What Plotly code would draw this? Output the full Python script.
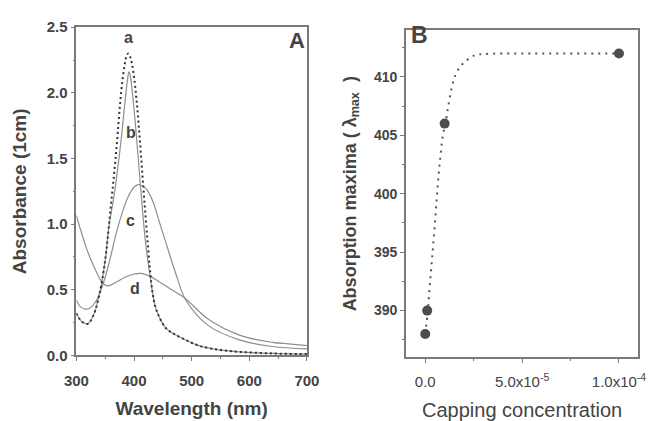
import plotly.graph_objects as go

# ---------------- Panel A data (wavelength nm, absorbance) ----------------
a_wl = [300, 306, 312, 319, 324, 329, 334, 339, 343, 348, 352, 356, 360, 364, 368, 372, 376, 380, 384, 387,
        390, 393, 396, 400, 404, 408, 412, 416, 420, 424, 428, 432, 437, 443, 450, 457, 465, 473, 490, 512,
        545, 584, 640, 700]
a_abs = [0.32, 0.275, 0.25, 0.24, 0.26, 0.30, 0.36, 0.45, 0.53, 0.665, 0.80, 0.97, 1.15, 1.32, 1.50, 1.71, 1.93, 2.10, 2.22, 2.28,
         2.30, 2.28, 2.23, 2.12, 1.96, 1.76, 1.53, 1.29, 1.06, 0.84, 0.64, 0.48, 0.37, 0.30, 0.24, 0.20, 0.175, 0.155, 0.117, 0.075,
         0.044, 0.027, 0.015, 0.01]

b_wl = [300, 306, 312, 319, 324, 329, 334, 339, 343, 348, 352, 356, 360, 364, 368, 373, 378, 382, 386, 389,
        391, 393, 396, 401, 405, 408, 412, 416, 420, 424, 428, 432, 437, 443, 450, 457, 465, 473, 490, 512,
        545, 584, 640, 700]
b_abs = [0.32, 0.275, 0.25, 0.24, 0.26, 0.30, 0.36, 0.45, 0.53, 0.665, 0.80, 0.97, 1.08, 1.18, 1.30, 1.47, 1.66, 1.83, 2.00, 2.11,
         2.16, 2.14, 2.05, 1.83, 1.63, 1.46, 1.25, 1.04, 0.86, 0.72, 0.60, 0.48, 0.37, 0.30, 0.24, 0.20, 0.175, 0.155, 0.117, 0.075,
         0.044, 0.027, 0.015, 0.01]

c_wl = [300, 307, 315, 323, 335, 346, 357, 368, 379, 390, 401, 410, 421, 432, 443, 457, 473, 490, 529, 584, 640, 700]
c_abs = [0.42, 0.37, 0.353, 0.36, 0.42, 0.54, 0.71, 0.91, 1.08, 1.21, 1.287, 1.30, 1.27, 1.18, 1.03, 0.835, 0.616, 0.42,
         0.227, 0.117, 0.068, 0.05]

d_wl = [300, 307, 318, 329, 340, 346, 354, 368, 385, 401, 412, 429, 451, 473, 490, 529, 584, 640, 668, 700]
d_abs = [1.067, 0.96, 0.81, 0.69, 0.59, 0.55, 0.53, 0.555, 0.597, 0.62, 0.625, 0.60, 0.54, 0.48, 0.43, 0.275, 0.153,
         0.10, 0.088, 0.075]

curve_labels = ["a", "b", "c", "d"]
label_wl = [390, 394, 393, 401]
label_abs = [2.42, 1.70, 1.03, 0.51]

# ---------------- Panel B data (capping concentration, lambda max) ----------------
cap_conc = [0.0, 1e-6, 1e-5, 1e-4]
lam_max = [388, 390, 406, 412]

fit_conc = [0, 0.13e-5, 0.25e-5, 0.38e-5, 0.5e-5, 0.61e-5, 0.74e-5, 0.91e-5, 1.04e-5, 1.19e-5, 1.37e-5,
            1.57e-5, 1.87e-5, 2.2e-5, 2.56e-5, 3.0e-5, 4e-5, 6e-5, 1e-4]
fit_lam = [388, 390, 392.5, 395, 397.5, 400, 402.5, 405, 406, 407.5, 409.1, 410.2, 411.0, 411.5, 411.85,
           411.95, 412, 412, 412]

a_ticks = [300, 400, 500, 600, 700]
a_yticks = [0.0, 0.5, 1.0, 1.5, 2.0, 2.5]
b_xticks = [0, 5e-5, 1e-4]
b_xticktext = ["0.0", "5.0x10<sup>-5</sup>", "1.0x10<sup>-4</sup>"]
b_yticks = [390, 395, 400, 405, 410]

TXT = "#444444"
FONT = "Liberation Sans, Arial, sans-serif"
SOLID = "#8e8e8e"
FRAME = "#7a7a7a"

fig = go.Figure()

for wl, ab in [(b_wl, b_abs), (c_wl, c_abs), (d_wl, d_abs)]:
    fig.add_trace(go.Scatter(x=wl, y=ab, mode="lines", line=dict(color=SOLID, width=1.2, shape="spline"),
                             xaxis="x", yaxis="y", showlegend=False))
fig.add_trace(go.Scatter(x=a_wl, y=a_abs, mode="lines",
                         line=dict(color="#333333", width=2, dash="2px,3px", shape="spline"),
                         xaxis="x", yaxis="y", showlegend=False))

fig.add_trace(go.Scatter(x=fit_conc, y=fit_lam, mode="lines",
                         line=dict(color="#555555", width=2, dash="2px,5px", shape="spline"),
                         xaxis="x2", yaxis="y2", showlegend=False))
fig.add_trace(go.Scatter(x=cap_conc, y=lam_max, mode="markers",
                         marker=dict(color="#4d4d4d", size=10),
                         xaxis="x2", yaxis="y2", showlegend=False))

axis_common = dict(showline=True, mirror=True, linecolor=FRAME, linewidth=1.5, ticks="outside",
                   ticklen=4, tickcolor=FRAME, showgrid=False, zeroline=False)

fig.update_layout(
    width=660, height=421,
    margin=dict(l=0, r=0, t=0, b=0),
    paper_bgcolor="white", plot_bgcolor="white",
    font=dict(family=FONT, color=TXT),
    xaxis=dict(domain=[66/660, 306/660], range=[300, 700], tickvals=a_ticks, anchor="y",
               tickfont=dict(size=15, weight="bold", color=TXT), ticklabelstandoff=7,
               title=dict(text="Wavelength (nm)", font=dict(size=19, weight="bold", color=TXT), standoff=14),
               minor=dict(dtick=50, ticks="outside", ticklen=2, tickcolor=FRAME),
               **axis_common),
    yaxis=dict(domain=[1-361/421, 1-19/421], range=[0, 2.5], tickvals=a_yticks, tickformat=".1f", anchor="x",
               tickfont=dict(size=15, weight="bold", color=TXT),
               title=dict(text="Absorbance (1cm)", font=dict(size=19, weight="bold", color=TXT), standoff=15),
               minor=dict(dtick=0.25, ticks="outside", ticklen=2, tickcolor=FRAME),
               **axis_common),
    xaxis2=dict(domain=[409/660, 651/660], range=[-1e-5, 1.1e-4], tickvals=b_xticks, ticktext=b_xticktext,
                anchor="y2",
                tickfont=dict(size=15, color=TXT), ticklabelstandoff=6,
                title=dict(text="Capping concentration", font=dict(size=20, color=TXT), standoff=14),
                minor=dict(dtick=2.5e-5, ticks="outside", ticklen=2, tickcolor=FRAME),
                **axis_common),
    yaxis2=dict(domain=[1-363/421, 1-22/421], range=[386, 414], tickvals=b_yticks, anchor="x2",
                tickfont=dict(size=14, weight="bold", color=TXT),
                title=dict(text="Absorption maxima ( λ<sub>max</sub>  )", font=dict(size=18, weight="bold", color=TXT),
                           standoff=13),
                minor=dict(dtick=2.5, ticks="outside", ticklen=2, tickcolor=FRAME),
                **axis_common),
)

for t, x, y in zip(curve_labels, label_wl, label_abs):
    fig.add_annotation(x=x, y=y, xref="x", yref="y", text=t, showarrow=False,
                       font=dict(size=16, weight="bold", color=TXT))

fig.add_annotation(x=0.955, y=0.96, xref="x domain", yref="y domain", text="A", showarrow=False,
                   xanchor="center", yanchor="middle", font=dict(size=22, weight="bold", color=TXT))
fig.add_annotation(x=0.06, y=0.985, xref="x2 domain", yref="y2 domain", text="B", showarrow=False,
                   xanchor="center", yanchor="middle", font=dict(size=23, weight="bold", color=TXT))

fig.write_html("out.html")
